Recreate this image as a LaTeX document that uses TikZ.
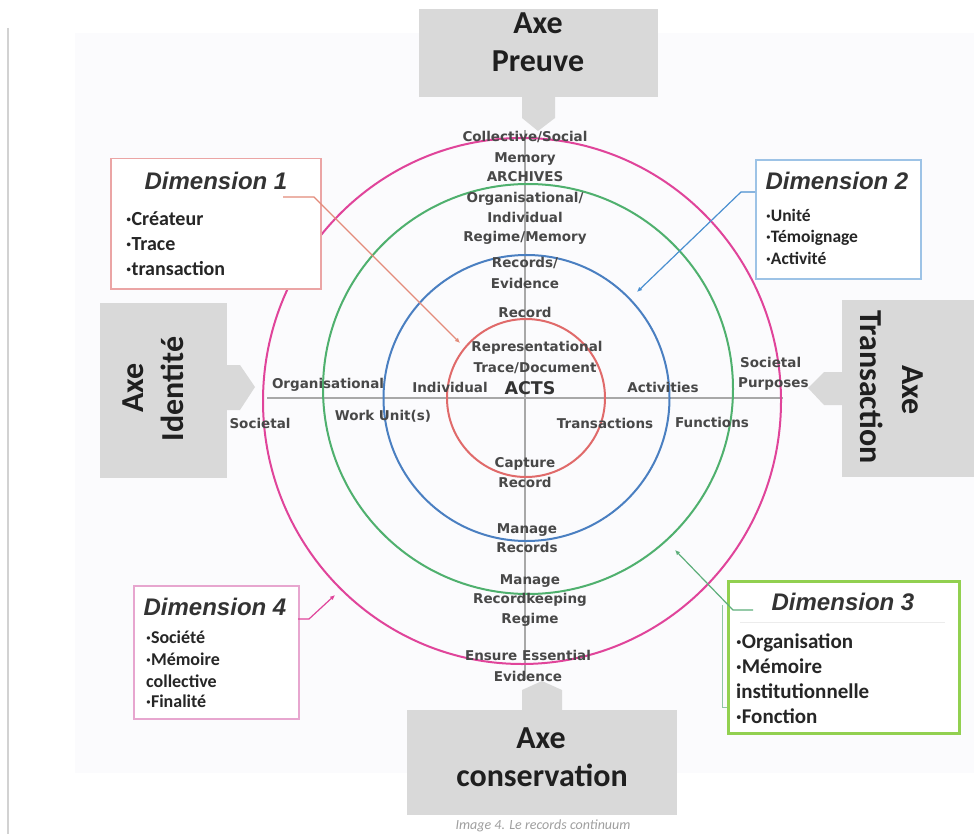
\documentclass[tikz,border=0pt]{standalone}
\usepackage{fontspec}
\setmainfont{Carlito}
\newfontfamily\lblfont{DejaVu Sans}
\newfontfamily\dimfont{Liberation Sans}
\usetikzlibrary{arrows.meta}

\definecolor{axisgray}{HTML}{D9D9D9}
\definecolor{axistext}{HTML}{1F1F1F}
\definecolor{panel}{HTML}{FBFBFD}
\definecolor{crossgray}{HTML}{A8A8A8}
\definecolor{lblgray}{HTML}{484848}
\definecolor{redring}{HTML}{E06A6A}
\definecolor{bluering}{HTML}{4A7FC1}
\definecolor{greenring}{HTML}{4FB06E}
\definecolor{magring}{HTML}{E0449A}
\definecolor{dimonec}{HTML}{EBA5A5}
\definecolor{dimtwoc}{HTML}{9DC3E6}
\definecolor{dimthreec}{HTML}{92D050}
\definecolor{dimfourc}{HTML}{E7A6CF}
\definecolor{connone}{HTML}{E38B7A}
\definecolor{conntwo}{HTML}{4A8FD0}
\definecolor{connthree}{HTML}{5DAE7A}
\definecolor{connfour}{HTML}{E0449A}
\definecolor{titlegray}{HTML}{333333}
\definecolor{itemc}{HTML}{262626}

% small bold bullet used in the dimension lists
\newcommand{\bul}{\textbf{·}}

\begin{document}
\begin{tikzpicture}[x=1pt,y=-1pt,
  axisbox/.style={fill=axisgray, draw=none},
  axtext/.style={font=\bfseries\fontsize{32}{38}\selectfont, text=axistext, inner sep=0},
  lbl/.style={font=\lblfont\bfseries\fontsize{13.5}{16}\selectfont, text=lblgray, inner sep=0, anchor=base},
  ring/.style={line width=2pt},
  crossline/.style={draw=crossgray, line width=2.2pt},
  dimbox/.style={fill=white, anchor=north west, inner sep=0},
  dimtitle/.style={font=\dimfont\bfseries\itshape\fontsize{24}{28}\selectfont, text=titlegray, inner sep=0, anchor=base},
  item/.style={font=\bfseries, text=itemc, inner sep=0, anchor=base west},
  conn/.style={line width=1.2pt, -{Latex[length=5pt,width=4.5pt]}}
]
\useasboundingbox (0,0) rectangle (974,834);
\fill[white] (0,0) rectangle (974,834);
\fill[panel] (75,33) rectangle (974,773);
\draw[gray!35, line width=1.2pt] (8,28) -- (8,834);

% the two axes of the continuum
\draw[crossline] (267,398) -- (783,398);
\draw[crossline] (525,130) -- (525,680);

% the four dimensions as rings
\draw[ring, redring]   (526,398) circle[radius=79pt];
\draw[ring, bluering]  (526.5,398) circle[radius=143pt];
\draw[ring, greenring] (528,389) circle[radius=205pt];
\draw[ring, magring]   (522,401) ellipse[x radius=259pt, y radius=263pt];

% labels along the vertical axis
\node[lbl] (colsoc) at (525,142) {Collective/Social};
\node[lbl] (mem)    at (525,163) {Memory};
\node[lbl] (arch)   at (525,182) {ARCHIVES};
\node[lbl] (orgA)   at (525,203) {Organisational/};
\node[lbl] (orgB)   at (525,223) {Individual};
\node[lbl] (regm)   at (525,242) {Regime/Memory};
\node[lbl] (recA)   at (525,268) {Records/};
\node[lbl] (recB)   at (525,288) {Evidence};
\node[lbl] (rec)    at (525,317) {Record};
\node[lbl] (repr)   at (537,351) {Representational};
\node[lbl] (trace)  at (535,372) {Trace/Document};
\node[lbl, font=\lblfont\bfseries\fontsize{17.5}{20}\selectfont, text=titlegray] (acts) at (530,394) {ACTS};
\node[lbl] (capA)   at (525,467) {Capture};
\node[lbl] (capB)   at (525,487) {Record};
\node[lbl] (manA)   at (527,533) {Manage};
\node[lbl] (manB)   at (527,552) {Records};
\node[lbl] (mrkA)   at (530,584) {Manage};
\node[lbl] (mrkB)   at (530,603) {Recordkeeping};
\node[lbl] (mrkC)   at (530,623) {Regime};
\node[lbl] (ensA)   at (528,660) {Ensure Essential};
\node[lbl] (ensB)   at (528,681) {Evidence};

% labels along the horizontal axis
\node[lbl] (indiv)  at (450,392) {Individual};
\node[lbl] (activ)  at (663,392) {Activities};
\node[lbl, anchor=base west] (spA) at (740,367) {Societal};
\node[lbl, anchor=base west] (spB) at (738,387) {Purposes};
\node[lbl] (trans)  at (605,428) {Transactions};
\node[lbl] (func)   at (712,427) {Functions};
\node[lbl] (orgn)   at (328,388) {Organisational};
\node[lbl] (wu)     at (383,420) {Work Unit(s)};
\node[lbl] (socl)   at (260,428) {Societal};

% axis panels with their pointers
\fill[axisbox] (419,9) rectangle (658,97);
\fill[axisbox] (522,96) -- (555,96) -- (555,118) -- (538,131) -- (522,118) -- cycle;
\fill[axisbox] (100,303) rectangle (227,478);
\fill[axisbox] (226,365) -- (240,365) -- (255,387) -- (240,410) -- (226,410) -- cycle;
\fill[axisbox] (842,300) rectangle (974,477);
\fill[axisbox] (843,372) -- (824,372) -- (808,388) -- (824,405) -- (843,405) -- cycle;
\fill[axisbox] (407,710) rectangle (677,815);
\fill[axisbox] (522,711) -- (522,690) -- (542,681) -- (562,690) -- (562,711) -- cycle;

\node[axtext] (apA) at (538,23) {Axe};
\node[axtext] (apB) at (538,61) {Preuve};
\node[axtext, rotate=90] (aiA) at (133,388) {Axe};
\node[axtext, rotate=90] (aiB) at (172,389) {Identité};
\node[axtext, rotate=-90] (atA) at (913,390) {Axe};
\node[axtext, rotate=-90] (atB) at (872,387) {Transaction};
\node[axtext] (acA) at (541,738) {Axe};
\node[axtext] (acB) at (542,775) {conservation};

% dimension boxes
\node[dimbox, draw=dimonec, line width=1.5pt, minimum width=210pt, minimum height=130pt] (d1) at (110,158) {};
\node[dimtitle] (d1t) at (216,190) {Dimension 1};
\node[item, font=\bfseries\fontsize{20}{24}\selectfont] (d1a) at (126,226) {\bul Créateur};
\node[item, font=\bfseries\fontsize{20}{24}\selectfont] (d1b) at (126,251) {\bul Trace};
\node[item, font=\bfseries\fontsize{20}{24}\selectfont] (d1c) at (126,276) {\bul transaction};

\node[dimbox, draw=dimtwoc, line width=2pt, minimum width=165pt, minimum height=119pt] (d2) at (755,159) {};
\node[dimtitle] (d2t) at (837,190) {Dimension 2};
\node[item, font=\bfseries\fontsize{17.5}{21}\selectfont] (d2a) at (766,222) {\bul Unité};
\node[item, font=\bfseries\fontsize{17.5}{21}\selectfont] (d2b) at (766,243) {\bul Témoignage};
\node[item, font=\bfseries\fontsize{17.5}{21}\selectfont] (d2c) at (766,265) {\bul Activité};

\draw[connthree!70, line width=1pt] (727,707) -- (722,707) -- (722,605);
\node[dimbox, draw=dimthreec, line width=3pt, minimum width=231pt, minimum height=152pt] (d3) at (727,580) {};
\draw[gray!15, line width=0.8pt] (740,622) -- (945,622);
\node[dimtitle] (d3t) at (843,610) {Dimension 3};
\node[item, font=\bfseries\fontsize{21}{25}\selectfont] (d3a) at (736,648) {\bul Organisation};
\node[item, font=\bfseries\fontsize{21}{25}\selectfont] (d3b) at (736,673) {\bul Mémoire};
\node[item, font=\bfseries\fontsize{21}{25}\selectfont] (d3c) at (736,698) {institutionnelle};
\node[item, font=\bfseries\fontsize{21}{25}\selectfont] (d3d) at (736,723) {\bul Fonction};

\node[dimbox, draw=dimfourc, line width=1.5pt, minimum width=165pt, minimum height=133pt] (d4) at (133,585) {};
\node[dimtitle] (d4t) at (215,615) {Dimension 4};
\node[item, font=\bfseries\fontsize{18}{22}\selectfont] (d4a) at (146,643) {\bul Société};
\node[item, font=\bfseries\fontsize{18}{22}\selectfont] (d4b) at (146,665) {\bul Mémoire};
\node[item, font=\bfseries\fontsize{18}{22}\selectfont] (d4c) at (146,687) {collective};
\node[item, font=\bfseries\fontsize{18}{22}\selectfont] (d4d) at (146,707) {\bul Finalité};

% connectors from each box to its ring
\coordinate (d1s) at (283,197);
\coordinate (d1k) at (314,197);
\coordinate (d1e) at (460,343);
\draw[conn, connone] (d1s) -- (d1k) -- (d1e);

\coordinate (d2s) at (755,192);
\coordinate (d2k) at (741,192);
\coordinate (d2e) at (637,292);
\draw[conn, conntwo] (d2s) -- (d2k) -- (d2e);

\coordinate (d3s) at (753,610);
\coordinate (d3k) at (733,610);
\coordinate (d3e) at (675,550);
\draw[conn, connthree] (d3s) -- (d3k) -- (d3e);

\coordinate (d4s) at (298,619);
\coordinate (d4k) at (309,619);
\coordinate (d4e) at (335,595);
\draw[conn, connfour] (d4s) -- (d4k) -- (d4e);

% caption
\node[font=\itshape\fontsize{14}{17}\selectfont, text=gray!75, anchor=base, inner sep=0] (cap) at (543,829) {Image 4. Le records continuum};
\end{tikzpicture}
\end{document}
